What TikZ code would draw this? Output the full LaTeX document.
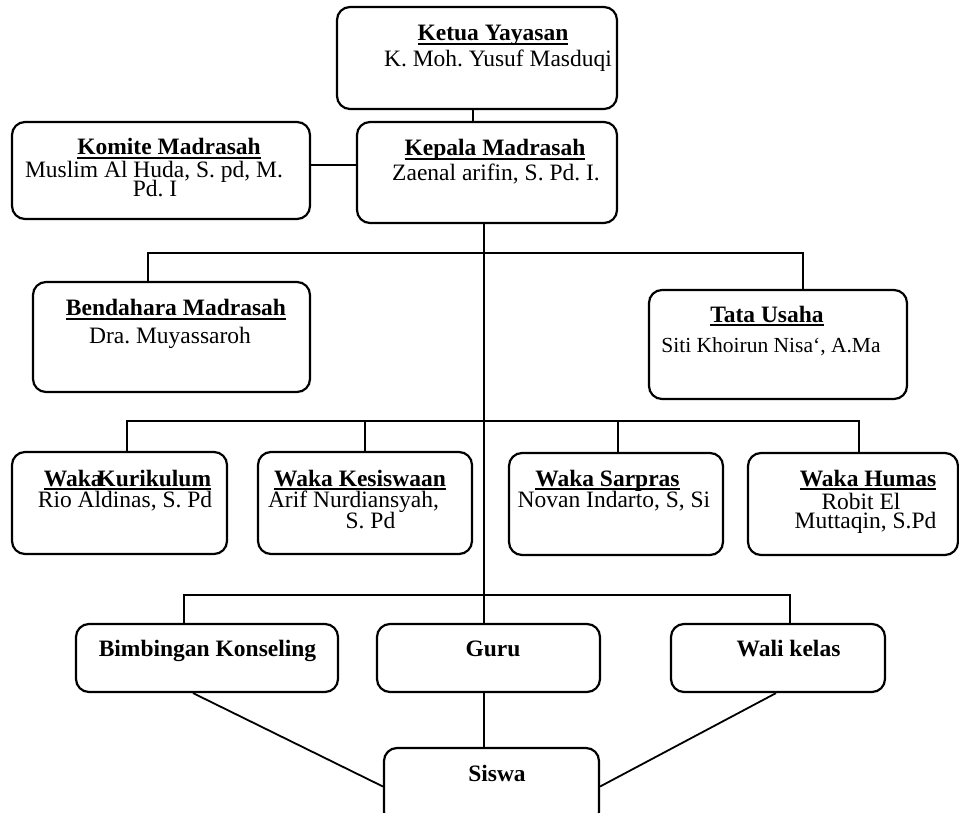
\documentclass[tikz,border=0pt]{standalone}
\usepackage{fontspec}
\setmainfont{Liberation Serif}
\frenchspacing
\newcommand\ulbar[1]{\setbox0\hbox{#1}\rlap{\rule[-4.2pt]{\wd0}{2.2pt}}\box0}
\newcommand\lsh[2]{\kern#1\relax#2\kern-#1\relax}
\newcommand\lines[2]{\vtop{\baselineskip=#1\lineskiplimit=-\maxdimen\lineskip=0pt\halign{\hfil##\hfil\cr#2\crcr}}}
\begin{document}
\begin{tikzpicture}[x=1pt,y=-1pt,
  box/.style={draw, line width=2.2pt, rounded corners=13pt, inner sep=0pt, fill=white},
  lbl/.style={anchor=base, inner sep=0pt, font=\fontsize{23.5}{26}\selectfont},
  ttl/.style={anchor=base, inner sep=0pt, font=\fontsize{23.5}{26}\selectfont\bfseries},
  link/.style={line width=1.8pt}]
\useasboundingbox (0,0) rectangle (959,813);
\clip (0,0) rectangle (959,813);
\fill[white] (0,0) rectangle (959,813);

% connector coordinates
\coordinate (trunk) at (484,0);
\coordinate (b1l) at (148,253);
\coordinate (b1r) at (803,253);
\coordinate (b2a) at (127,421);
\coordinate (b2b) at (365,421);
\coordinate (b2c) at (618,421);
\coordinate (b2d) at (859,421);
\coordinate (b3l) at (184,595);
\coordinate (b3r) at (790,595);

% boxes
\node[box, minimum width=280pt, minimum height=102pt] (ketua) at (477,58) {};
\node[box, minimum width=260pt, minimum height=101pt] (kepala) at (487,172.5) {};
\node[box, minimum width=298pt, minimum height=97pt] (komite) at (161,170.5) {};
\node[box, minimum width=277pt, minimum height=110pt] (bend) at (171.5,337) {};
\node[box, minimum width=258pt, minimum height=109pt] (tata) at (778,344.5) {};
\node[box, minimum width=215pt, minimum height=102pt] (wkur) at (119.5,503) {};
\node[box, minimum width=214pt, minimum height=102pt] (wkes) at (365,503) {};
\node[box, minimum width=214pt, minimum height=102pt] (wsar) at (616,504) {};
\node[box, minimum width=210pt, minimum height=102pt] (whum) at (853,504) {};
\node[box, minimum width=262pt, minimum height=68pt] (bk) at (207,658) {};
\node[box, minimum width=223pt, minimum height=68pt] (guru) at (488.5,658) {};
\node[box, minimum width=214pt, minimum height=68pt] (wali) at (778,658) {};
\node[box, minimum width=215pt, minimum height=77pt] (siswa) at (491.5,786.5) {};

% connectors
\draw[link] ([xshift=-4pt]ketua.south) -- ([xshift=-4pt]ketua.south |- kepala.north);
\draw[link] ([yshift=5.5pt]komite.east) -- ([yshift=5.5pt]komite.east -| kepala.west);
\draw[link] (kepala.south -| trunk) -- (guru.north -| trunk);
\draw[link] (guru.south -| trunk) -- (siswa.north -| trunk);
\draw[link] (b1l |- bend.north) -- (b1l) -- (b1r) -- (b1r |- tata.north);
\draw[link] (b2a |- wkur.north) -- (b2a) -- (b2d) -- (b2d |- whum.north);
\draw[link] (b2b) -- (b2b |- wkes.north);
\draw[link] (b2c) -- (b2c |- wsar.north);
\draw[link] (b3l |- bk.north) -- (b3l) -- (b3r) -- (b3r |- wali.north);
\draw[link] ([xshift=-14pt]bk.south) -- (siswa.west);
\draw[link] ([xshift=-2pt]wali.south) -- (siswa.east);

% texts
\node[lbl] (t1) at (493,41) {\lines{26pt}{\ulbar{\bfseries Ketua Yayasan}\cr
  \lsh{5pt}{K. Moh. Yusuf Masduqi}}};
\node[lbl] (t2) at (495,156) {\lines{25pt}{\ulbar{\bfseries Kepala Madrasah}\cr
  \lsh{1pt}{Zaenal arifin, S. Pd. I.}}};
\node[lbl] (t3) at (169,155) {\lines{19pt}{\ulbar{\bfseries Komite Madrasah}\cr
  \noalign{\kern4pt}\lsh{-15pt}{Muslim Al Huda, S. pd, M.}\cr
  \lsh{-14pt}{Pd. I}}};
\node[lbl] (t4) at (176,316) {\lines{28pt}{\ulbar{\bfseries Bendahara Madrasah}\cr
  \lsh{-6pt}{Dra. Muyassaroh}}};
\node[lbl] (t5) at (767,322) {\lines{30pt}{\ulbar{\bfseries Tata Usaha}\cr
  \lsh{4pt}{\fontsize{21.5}{24}\selectfont Siti Khoirun Nisa{\char"60}, A.Ma}}};
\node[lbl] (t6) at (127.5,486) {\lines{21pt}{\ulbar{\bfseries Waka\hspace{-0.22em}Kurikulum}\cr
  \lsh{-2.5pt}{Rio Aldinas, S. Pd}}};
\node[lbl] (t7) at (360,486) {\lines{21pt}{\ulbar{\bfseries Waka Kesiswaan}\cr
  \lsh{-6.5pt}{Arif Nurdiansyah,}\cr
  \lsh{10.5pt}{S. Pd}}};
\node[lbl] (t8) at (607.5,486) {\lines{21pt}{\ulbar{\bfseries Waka Sarpras}\cr
  \lsh{6.5pt}{Novan Indarto, S, Si}}};
\node[lbl] (t9) at (868,486) {\lines{19pt}{\ulbar{\bfseries Waka Humas}\cr
  \noalign{\kern4pt}\lsh{-7pt}{Robit El}\cr
  \lsh{-2.5pt}{Muttaqin, S.Pd}}};
\node[ttl] (t10) at (207.5,656.5) {Bimbingan Konseling};
\node[ttl] (t11) at (493,656.5) {Guru};
\node[ttl] (t12) at (788.5,656.5) {Wali kelas};
\node[ttl] (t13) at (497,781) {Siswa};
\end{tikzpicture}
\end{document}
